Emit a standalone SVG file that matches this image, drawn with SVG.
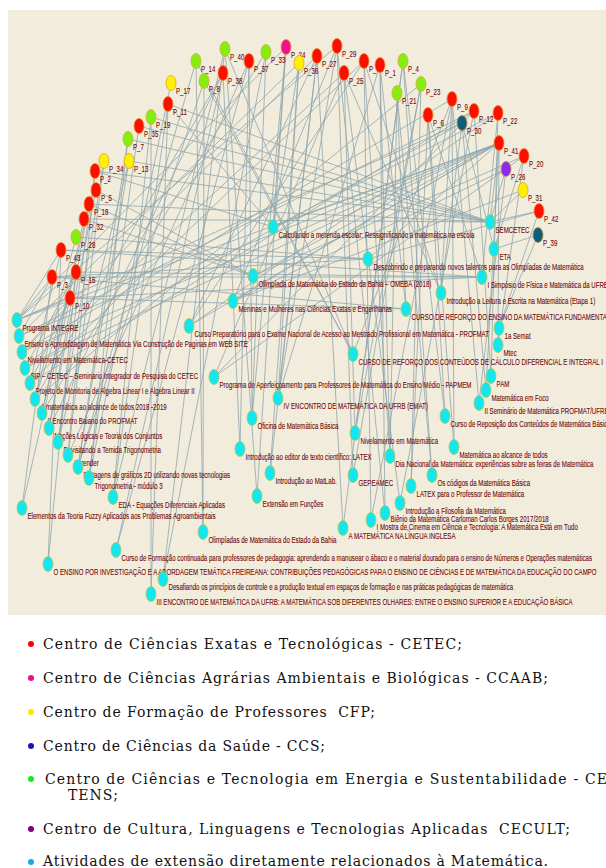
<svg xmlns="http://www.w3.org/2000/svg" width="606" height="868" viewBox="0 0 606 868">
<style>
.e line{stroke:#8fa6ad;stroke-width:0.8}
ellipse{stroke-width:0.8}
.r{fill:#fa0f00;stroke:#f08a2a}
.y{fill:#fff000;stroke:#d8a820}
.g{fill:#84ee10;stroke:#d0b030}
.m{fill:#f2108c;stroke:#e89040}
.v{fill:#8a2cf0;stroke:#d09040}
.t{fill:#08607e;stroke:#c09040}
.c{fill:#13e6ef;stroke:#b8c850}
.l{font-family:"Liberation Sans",Arial,sans-serif;font-size:9.5px;fill:#720909;stroke:#720909;stroke-width:0.12}
.lg{font-family:"DejaVu Serif","Liberation Serif",serif;font-size:14px;fill:#111}
</style>
<rect x="8" y="10" width="598" height="605" fill="#f2ecdc"/>
<g id="edges" class="e">
<line x1="539" y1="211" x2="490" y2="222"/>
<line x1="523" y1="190" x2="490" y2="222"/>
<line x1="506" y1="169" x2="490" y2="222"/>
<line x1="499" y1="143" x2="490" y2="222"/>
<line x1="168" y1="104" x2="490" y2="222"/>
<line x1="139" y1="126" x2="490" y2="222"/>
<line x1="151" y1="117" x2="490" y2="222"/>
<line x1="128" y1="139" x2="490" y2="222"/>
<line x1="95" y1="171" x2="490" y2="222"/>
<line x1="84" y1="219" x2="490" y2="222"/>
<line x1="89" y1="204" x2="490" y2="222"/>
<line x1="129" y1="161" x2="490" y2="222"/>
<line x1="538" y1="235" x2="494" y2="249"/>
<line x1="462" y1="123" x2="494" y2="249"/>
<line x1="524" y1="156" x2="494" y2="249"/>
<line x1="76" y1="272" x2="482" y2="277"/>
<line x1="52" y1="277" x2="482" y2="277"/>
<line x1="61" y1="250" x2="482" y2="277"/>
<line x1="70" y1="298" x2="482" y2="277"/>
<line x1="498" y1="113" x2="482" y2="277"/>
<line x1="428" y1="115" x2="482" y2="277"/>
<line x1="452" y1="99" x2="441" y2="293"/>
<line x1="462" y1="123" x2="441" y2="293"/>
<line x1="344" y1="73" x2="441" y2="293"/>
<line x1="364" y1="61" x2="441" y2="293"/>
<line x1="70" y1="298" x2="406" y2="309"/>
<line x1="52" y1="277" x2="406" y2="309"/>
<line x1="380" y1="65" x2="406" y2="309"/>
<line x1="397" y1="93" x2="406" y2="309"/>
<line x1="538" y1="235" x2="499" y2="328"/>
<line x1="539" y1="211" x2="499" y2="328"/>
<line x1="499" y1="143" x2="498" y2="345"/>
<line x1="524" y1="156" x2="498" y2="345"/>
<line x1="498" y1="113" x2="491" y2="376"/>
<line x1="474" y1="111" x2="491" y2="376"/>
<line x1="499" y1="143" x2="486" y2="390"/>
<line x1="462" y1="123" x2="486" y2="390"/>
<line x1="506" y1="169" x2="479" y2="403"/>
<line x1="452" y1="99" x2="479" y2="403"/>
<line x1="428" y1="115" x2="445" y2="416"/>
<line x1="403" y1="61" x2="445" y2="416"/>
<line x1="52" y1="277" x2="17" y2="320"/>
<line x1="70" y1="298" x2="17" y2="320"/>
<line x1="61" y1="250" x2="17" y2="320"/>
<line x1="499" y1="143" x2="17" y2="320"/>
<line x1="462" y1="123" x2="17" y2="320"/>
<line x1="286" y1="47" x2="17" y2="320"/>
<line x1="337" y1="46" x2="17" y2="320"/>
<line x1="52" y1="277" x2="19" y2="336"/>
<line x1="499" y1="143" x2="19" y2="336"/>
<line x1="474" y1="111" x2="19" y2="336"/>
<line x1="299" y1="63" x2="19" y2="336"/>
<line x1="70" y1="298" x2="22" y2="352"/>
<line x1="499" y1="143" x2="22" y2="352"/>
<line x1="452" y1="99" x2="22" y2="352"/>
<line x1="317" y1="56" x2="22" y2="352"/>
<line x1="76" y1="272" x2="25" y2="368"/>
<line x1="499" y1="143" x2="25" y2="368"/>
<line x1="462" y1="123" x2="25" y2="368"/>
<line x1="344" y1="73" x2="25" y2="368"/>
<line x1="61" y1="250" x2="30" y2="383"/>
<line x1="70" y1="298" x2="30" y2="383"/>
<line x1="474" y1="111" x2="30" y2="383"/>
<line x1="364" y1="61" x2="30" y2="383"/>
<line x1="76" y1="272" x2="35" y2="399"/>
<line x1="76" y1="237" x2="35" y2="399"/>
<line x1="223" y1="73" x2="35" y2="399"/>
<line x1="421" y1="84" x2="35" y2="399"/>
<line x1="84" y1="219" x2="42" y2="413"/>
<line x1="89" y1="204" x2="42" y2="413"/>
<line x1="266" y1="52" x2="42" y2="413"/>
<line x1="89" y1="204" x2="49" y2="428"/>
<line x1="96" y1="190" x2="49" y2="428"/>
<line x1="223" y1="73" x2="49" y2="428"/>
<line x1="95" y1="171" x2="58" y2="442"/>
<line x1="104" y1="161" x2="58" y2="442"/>
<line x1="129" y1="161" x2="58" y2="442"/>
<line x1="104" y1="161" x2="68" y2="455"/>
<line x1="95" y1="171" x2="68" y2="455"/>
<line x1="249" y1="61" x2="68" y2="455"/>
<line x1="129" y1="161" x2="78" y2="467"/>
<line x1="128" y1="139" x2="78" y2="467"/>
<line x1="196" y1="61" x2="78" y2="467"/>
<line x1="204" y1="81" x2="78" y2="467"/>
<line x1="128" y1="139" x2="89" y2="478"/>
<line x1="139" y1="126" x2="89" y2="478"/>
<line x1="171" y1="83" x2="89" y2="478"/>
<line x1="151" y1="117" x2="113" y2="497"/>
<line x1="168" y1="104" x2="113" y2="497"/>
<line x1="225" y1="49" x2="113" y2="497"/>
<line x1="70" y1="298" x2="22" y2="508"/>
<line x1="52" y1="277" x2="22" y2="508"/>
<line x1="204" y1="81" x2="203" y2="532"/>
<line x1="196" y1="61" x2="203" y2="532"/>
<line x1="223" y1="73" x2="116" y2="550"/>
<line x1="249" y1="61" x2="116" y2="550"/>
<line x1="76" y1="272" x2="48" y2="564"/>
<line x1="61" y1="250" x2="48" y2="564"/>
<line x1="225" y1="49" x2="163" y2="579"/>
<line x1="266" y1="52" x2="163" y2="579"/>
<line x1="151" y1="117" x2="151" y2="594"/>
<line x1="168" y1="104" x2="151" y2="594"/>
<line x1="299" y1="63" x2="273" y2="227"/>
<line x1="286" y1="47" x2="273" y2="227"/>
<line x1="498" y1="113" x2="273" y2="227"/>
<line x1="95" y1="171" x2="273" y2="227"/>
<line x1="168" y1="104" x2="273" y2="227"/>
<line x1="499" y1="143" x2="273" y2="227"/>
<line x1="61" y1="250" x2="368" y2="259"/>
<line x1="76" y1="237" x2="368" y2="259"/>
<line x1="52" y1="277" x2="368" y2="259"/>
<line x1="539" y1="211" x2="368" y2="259"/>
<line x1="499" y1="143" x2="368" y2="259"/>
<line x1="499" y1="143" x2="253" y2="276"/>
<line x1="524" y1="156" x2="253" y2="276"/>
<line x1="89" y1="204" x2="253" y2="276"/>
<line x1="84" y1="219" x2="253" y2="276"/>
<line x1="96" y1="190" x2="253" y2="276"/>
<line x1="499" y1="143" x2="233" y2="301"/>
<line x1="506" y1="169" x2="233" y2="301"/>
<line x1="523" y1="190" x2="233" y2="301"/>
<line x1="337" y1="46" x2="233" y2="301"/>
<line x1="499" y1="143" x2="189" y2="326"/>
<line x1="498" y1="113" x2="189" y2="326"/>
<line x1="317" y1="56" x2="189" y2="326"/>
<line x1="364" y1="61" x2="189" y2="326"/>
<line x1="196" y1="61" x2="353" y2="354"/>
<line x1="225" y1="49" x2="353" y2="354"/>
<line x1="204" y1="81" x2="353" y2="354"/>
<line x1="452" y1="99" x2="353" y2="354"/>
<line x1="474" y1="111" x2="214" y2="377"/>
<line x1="524" y1="156" x2="214" y2="377"/>
<line x1="344" y1="73" x2="214" y2="377"/>
<line x1="337" y1="46" x2="278" y2="398"/>
<line x1="317" y1="56" x2="278" y2="398"/>
<line x1="380" y1="65" x2="278" y2="398"/>
<line x1="299" y1="63" x2="278" y2="398"/>
<line x1="286" y1="47" x2="252" y2="418"/>
<line x1="266" y1="52" x2="252" y2="418"/>
<line x1="249" y1="61" x2="252" y2="418"/>
<line x1="403" y1="61" x2="355" y2="433"/>
<line x1="421" y1="84" x2="355" y2="433"/>
<line x1="344" y1="73" x2="355" y2="433"/>
<line x1="249" y1="61" x2="240" y2="449"/>
<line x1="223" y1="73" x2="240" y2="449"/>
<line x1="364" y1="61" x2="390" y2="456"/>
<line x1="380" y1="65" x2="390" y2="456"/>
<line x1="397" y1="93" x2="390" y2="456"/>
<line x1="428" y1="115" x2="454" y2="447"/>
<line x1="452" y1="99" x2="454" y2="447"/>
<line x1="299" y1="63" x2="270" y2="473"/>
<line x1="317" y1="56" x2="270" y2="473"/>
<line x1="337" y1="46" x2="353" y2="475"/>
<line x1="421" y1="84" x2="353" y2="475"/>
<line x1="397" y1="93" x2="432" y2="475"/>
<line x1="403" y1="61" x2="432" y2="475"/>
<line x1="421" y1="84" x2="411" y2="486"/>
<line x1="428" y1="115" x2="411" y2="486"/>
<line x1="286" y1="47" x2="257" y2="496"/>
<line x1="225" y1="49" x2="257" y2="496"/>
<line x1="344" y1="73" x2="400" y2="503"/>
<line x1="474" y1="111" x2="400" y2="503"/>
<line x1="337" y1="46" x2="385" y2="513"/>
<line x1="380" y1="65" x2="385" y2="513"/>
<line x1="364" y1="61" x2="371" y2="520"/>
<line x1="452" y1="99" x2="371" y2="520"/>
<line x1="317" y1="56" x2="343" y2="528"/>
<line x1="403" y1="61" x2="343" y2="528"/>
</g>
<g id="P_40"><ellipse class="g" cx="225" cy="49" rx="5" ry="7.5"/><text class="l" transform="translate(230,60) scale(0.645,1)">P_40</text></g>
<g id="P_14"><ellipse class="g" cx="196" cy="61" rx="5" ry="7.5"/><text class="l" transform="translate(201,72) scale(0.645,1)">P_14</text></g>
<g id="P_8"><ellipse class="g" cx="204" cy="81" rx="5" ry="7.5"/><text class="l" transform="translate(209,92) scale(0.645,1)">P_8</text></g>
<g id="P_38"><ellipse class="r" cx="223" cy="73" rx="5" ry="7.5"/><text class="l" transform="translate(228,84) scale(0.645,1)">P_38</text></g>
<g id="P_37"><ellipse class="r" cx="249" cy="61" rx="5" ry="7.5"/><text class="l" transform="translate(254,72) scale(0.645,1)">P_37</text></g>
<g id="P_33"><ellipse class="g" cx="266" cy="52" rx="5" ry="7.5"/><text class="l" transform="translate(271,63) scale(0.645,1)">P_33</text></g>
<g id="P_24"><ellipse class="m" cx="286" cy="47" rx="5" ry="7.5"/><text class="l" transform="translate(291,58) scale(0.645,1)">P_24</text></g>
<g id="P_36"><ellipse class="y" cx="299" cy="63" rx="5" ry="7.5"/><text class="l" transform="translate(304,74) scale(0.645,1)">P_36</text></g>
<g id="P_27"><ellipse class="r" cx="317" cy="56" rx="5" ry="7.5"/><text class="l" transform="translate(322,67) scale(0.645,1)">P_27</text></g>
<g id="P_29"><ellipse class="r" cx="337" cy="46" rx="5" ry="7.5"/><text class="l" transform="translate(342,57) scale(0.645,1)">P_29</text></g>
<g id="P_25"><ellipse class="r" cx="344" cy="73" rx="5" ry="7.5"/><text class="l" transform="translate(349,84) scale(0.645,1)">P_25</text></g>
<g id="P_16"><ellipse class="r" cx="364" cy="61" rx="5" ry="7.5"/><text class="l" transform="translate(369,72) scale(0.645,1)">P_16</text></g>
<g id="P_1"><ellipse class="r" cx="380" cy="65" rx="5" ry="7.5"/><text class="l" transform="translate(385,76) scale(0.645,1)">P_1</text></g>
<g id="P_4"><ellipse class="g" cx="403" cy="61" rx="5" ry="7.5"/><text class="l" transform="translate(408,72) scale(0.645,1)">P_4</text></g>
<g id="P_21"><ellipse class="g" cx="397" cy="93" rx="5" ry="7.5"/><text class="l" transform="translate(402,104) scale(0.645,1)">P_21</text></g>
<g id="P_23"><ellipse class="g" cx="421" cy="84" rx="5" ry="7.5"/><text class="l" transform="translate(426,95) scale(0.645,1)">P_23</text></g>
<g id="P_6"><ellipse class="r" cx="428" cy="115" rx="5" ry="7.5"/><text class="l" transform="translate(433,126) scale(0.645,1)">P_6</text></g>
<g id="P_9"><ellipse class="r" cx="452" cy="99" rx="5" ry="7.5"/><text class="l" transform="translate(457,110) scale(0.645,1)">P_9</text></g>
<g id="P_30"><ellipse class="t" cx="462" cy="123" rx="5" ry="7.5"/><text class="l" transform="translate(467,134) scale(0.645,1)">P_30</text></g>
<g id="P_12"><ellipse class="r" cx="474" cy="111" rx="5" ry="7.5"/><text class="l" transform="translate(479,122) scale(0.645,1)">P_12</text></g>
<g id="P_22"><ellipse class="r" cx="498" cy="113" rx="5" ry="7.5"/><text class="l" transform="translate(503,124) scale(0.645,1)">P_22</text></g>
<g id="P_41"><ellipse class="r" cx="499" cy="143" rx="5" ry="7.5"/><text class="l" transform="translate(504,154) scale(0.645,1)">P_41</text></g>
<g id="P_20"><ellipse class="r" cx="524" cy="156" rx="5" ry="7.5"/><text class="l" transform="translate(529,167) scale(0.645,1)">P_20</text></g>
<g id="P_26"><ellipse class="v" cx="506" cy="169" rx="5" ry="7.5"/><text class="l" transform="translate(511,180) scale(0.645,1)">P_26</text></g>
<g id="P_31"><ellipse class="y" cx="523" cy="190" rx="5" ry="7.5"/><text class="l" transform="translate(528,201) scale(0.645,1)">P_31</text></g>
<g id="P_42"><ellipse class="r" cx="539" cy="211" rx="5" ry="7.5"/><text class="l" transform="translate(544,222) scale(0.645,1)">P_42</text></g>
<g id="P_39"><ellipse class="t" cx="538" cy="235" rx="5" ry="7.5"/><text class="l" transform="translate(543,246) scale(0.645,1)">P_39</text></g>
<g id="P_17"><ellipse class="y" cx="171" cy="83" rx="5" ry="7.5"/><text class="l" transform="translate(176,94) scale(0.645,1)">P_17</text></g>
<g id="P_11"><ellipse class="r" cx="168" cy="104" rx="5" ry="7.5"/><text class="l" transform="translate(173,115) scale(0.645,1)">P_11</text></g>
<g id="P_19"><ellipse class="g" cx="151" cy="117" rx="5" ry="7.5"/><text class="l" transform="translate(156,128) scale(0.645,1)">P_19</text></g>
<g id="P_35"><ellipse class="r" cx="139" cy="126" rx="5" ry="7.5"/><text class="l" transform="translate(144,137) scale(0.645,1)">P_35</text></g>
<g id="P_7"><ellipse class="g" cx="128" cy="139" rx="5" ry="7.5"/><text class="l" transform="translate(133,150) scale(0.645,1)">P_7</text></g>
<g id="P_13"><ellipse class="y" cx="129" cy="161" rx="5" ry="7.5"/><text class="l" transform="translate(134,172) scale(0.645,1)">P_13</text></g>
<g id="P_34"><ellipse class="y" cx="104" cy="161" rx="5" ry="7.5"/><text class="l" transform="translate(109,172) scale(0.645,1)">P_34</text></g>
<g id="P_2"><ellipse class="r" cx="95" cy="171" rx="5" ry="7.5"/><text class="l" transform="translate(100,182) scale(0.645,1)">P_2</text></g>
<g id="P_5"><ellipse class="r" cx="96" cy="190" rx="5" ry="7.5"/><text class="l" transform="translate(101,201) scale(0.645,1)">P_5</text></g>
<g id="P_18"><ellipse class="r" cx="89" cy="204" rx="5" ry="7.5"/><text class="l" transform="translate(94,215) scale(0.645,1)">P_18</text></g>
<g id="P_32"><ellipse class="r" cx="84" cy="219" rx="5" ry="7.5"/><text class="l" transform="translate(89,230) scale(0.645,1)">P_32</text></g>
<g id="P_28"><ellipse class="g" cx="76" cy="237" rx="5" ry="7.5"/><text class="l" transform="translate(81,248) scale(0.645,1)">P_28</text></g>
<g id="P_43"><ellipse class="r" cx="61" cy="250" rx="5" ry="7.5"/><text class="l" transform="translate(66,261) scale(0.645,1)">P_43</text></g>
<g id="P_3"><ellipse class="r" cx="52" cy="277" rx="5" ry="7.5"/><text class="l" transform="translate(57,288) scale(0.645,1)">P_3</text></g>
<g id="P_15"><ellipse class="r" cx="76" cy="272" rx="5" ry="7.5"/><text class="l" transform="translate(81,283) scale(0.645,1)">P_15</text></g>
<g id="P_10"><ellipse class="r" cx="70" cy="298" rx="5" ry="7.5"/><text class="l" transform="translate(75,309) scale(0.645,1)">P_10</text></g>
<g id="a1"><ellipse class="c" cx="17" cy="320" rx="5" ry="7.5"/><text class="l" transform="translate(22.5,331) scale(0.645,1)">Programa INTEGRE</text></g>
<g id="a2"><ellipse class="c" cx="19" cy="336" rx="5" ry="7.5"/><text class="l" transform="translate(24.5,347) scale(0.645,1)">Ensino e Aprendizagem de Matemática Via Construção de Paginas em WEB SITE</text></g>
<g id="a3"><ellipse class="c" cx="22" cy="352" rx="5" ry="7.5"/><text class="l" transform="translate(27.5,363) scale(0.645,1)">Nivelamento em Matemática-CETEC</text></g>
<g id="a4"><ellipse class="c" cx="25" cy="368" rx="5" ry="7.5"/><text class="l" transform="translate(30.5,379) scale(0.645,1)">SIP – CETEC – Seminario Integrador de Pesquisa do CETEC</text></g>
<g id="a5"><ellipse class="c" cx="30" cy="383" rx="5" ry="7.5"/><text class="l" transform="translate(35.5,394) scale(0.645,1)">Projeto de Monitoria de Algebra Linear I e Algebra Linear II</text></g>
<g id="a6"><ellipse class="c" cx="35" cy="399" rx="5" ry="7.5"/><text class="l" transform="translate(40.5,410) scale(0.645,1)">A matemática ao alcance de todos 2018 -2019</text></g>
<g id="a7"><ellipse class="c" cx="42" cy="413" rx="5" ry="7.5"/><text class="l" transform="translate(47.5,424) scale(0.645,1)">II Encontro Baiano do PROFMAT</text></g>
<g id="a8"><ellipse class="c" cx="49" cy="428" rx="5" ry="7.5"/><text class="l" transform="translate(54.5,439) scale(0.645,1)">Noções Lógicas e Teoria dos Conjuntos</text></g>
<g id="a9"><ellipse class="c" cx="58" cy="442" rx="5" ry="7.5"/><text class="l" transform="translate(63.5,453) scale(0.645,1)">Revisitando a Temida Trigonometria</text></g>
<g id="a10"><ellipse class="c" cx="68" cy="455" rx="5" ry="7.5"/><text class="l" transform="translate(73.5,466) scale(0.645,1)">Aprender</text></g>
<g id="a11"><ellipse class="c" cx="78" cy="467" rx="5" ry="7.5"/><text class="l" transform="translate(83.5,478) scale(0.645,1)">Plotagens de gráficos 2D utilizando novas tecnologias</text></g>
<g id="a12"><ellipse class="c" cx="89" cy="478" rx="5" ry="7.5"/><text class="l" transform="translate(94.5,489) scale(0.645,1)">Trigonometria - módulo 3</text></g>
<g id="a13"><ellipse class="c" cx="113" cy="497" rx="5" ry="7.5"/><text class="l" transform="translate(118.5,508) scale(0.645,1)">EDA - Equações Diferenciais Aplicadas</text></g>
<g id="a14"><ellipse class="c" cx="22" cy="508" rx="5" ry="7.5"/><text class="l" transform="translate(27.5,519) scale(0.645,1)">Elementos da Teoria Fuzzy Aplicados aos Problemas Agroambientais</text></g>
<g id="a15"><ellipse class="c" cx="203" cy="532" rx="5" ry="7.5"/><text class="l" transform="translate(208.5,543) scale(0.645,1)">Olimpíadas de Matemática do Estado da Bahia</text></g>
<g id="a16"><ellipse class="c" cx="116" cy="550" rx="5" ry="7.5"/><text class="l" transform="translate(121.5,561) scale(0.645,1)">Curso de Formação continuada para professores de pedagogia: aprendendo a manusear o ábaco e o material dourado para o ensino de Números e Operações matemáticas</text></g>
<g id="a17"><ellipse class="c" cx="48" cy="564" rx="5" ry="7.5"/><text class="l" transform="translate(53.5,575) scale(0.645,1)">O ENSINO POR INVESTIGAÇÃO E A ABORDAGEM TEMÁTICA FREIREANA: CONTRIBUIÇÕES PEDAGÓGICAS PARA O ENSINO DE CIÊNCIAS E DE MATEMÁTICA DA EDUCAÇÃO DO CAMPO</text></g>
<g id="a18"><ellipse class="c" cx="163" cy="579" rx="5" ry="7.5"/><text class="l" transform="translate(168.5,590) scale(0.645,1)">Desafiando os princípios de controle e a produção textual em espaços de formação e nas práticas pedagógicas de matemática</text></g>
<g id="a19"><ellipse class="c" cx="151" cy="594" rx="5" ry="7.5"/><text class="l" transform="translate(156.5,605) scale(0.645,1)">III ENCONTRO DE MATEMÁTICA DA UFRB: A MATEMÁTICA SOB DIFERENTES OLHARES: ENTRE O ENSINO SUPERIOR E A EDUCAÇÃO BÁSICA</text></g>
<g id="a20"><ellipse class="c" cx="273" cy="227" rx="5" ry="7.5"/><text class="l" transform="translate(278.5,238) scale(0.645,1)">Calculando a merenda escolar: Ressignificando a matemática na escola</text></g>
<g id="a21"><ellipse class="c" cx="368" cy="259" rx="5" ry="7.5"/><text class="l" transform="translate(373.5,270) scale(0.645,1)">Descobrindo e preparando novos talentos para as Olimpíadas de Matemática</text></g>
<g id="a22"><ellipse class="c" cx="253" cy="276" rx="5" ry="7.5"/><text class="l" transform="translate(258.5,287) scale(0.645,1)">Olimpíada de Matemática do Estado da Bahia – OMEBA (2018)</text></g>
<g id="a23"><ellipse class="c" cx="233" cy="301" rx="5" ry="7.5"/><text class="l" transform="translate(238.5,312) scale(0.645,1)">Meninas e Mulheres nas Ciências Exatas e Engenharias</text></g>
<g id="a24"><ellipse class="c" cx="189" cy="326" rx="5" ry="7.5"/><text class="l" transform="translate(194.5,337) scale(0.645,1)">Curso Preparatório para o Exame Nacional de Acesso ao Mestrado Profissional em Matemática - PROFMAT</text></g>
<g id="a25"><ellipse class="c" cx="353" cy="354" rx="5" ry="7.5"/><text class="l" transform="translate(358.5,365) scale(0.645,1)">CURSO DE REFORÇO DOS CONTEÚDOS DE CÁLCULO DIFERENCIAL E INTEGRAL I</text></g>
<g id="a26"><ellipse class="c" cx="214" cy="377" rx="5" ry="7.5"/><text class="l" transform="translate(219.5,388) scale(0.645,1)">Programa de Aperfeiçoamento para Professores de Matemática do Ensino Médio - PAPMEM</text></g>
<g id="a27"><ellipse class="c" cx="278" cy="398" rx="5" ry="7.5"/><text class="l" transform="translate(283.5,409) scale(0.645,1)">IV ENCONTRO DE MATEMÁTICA DA UFRB (EMAT)</text></g>
<g id="a28"><ellipse class="c" cx="252" cy="418" rx="5" ry="7.5"/><text class="l" transform="translate(257.5,429) scale(0.645,1)">Oficina de Matemática Básica</text></g>
<g id="a29"><ellipse class="c" cx="355" cy="433" rx="5" ry="7.5"/><text class="l" transform="translate(360.5,444) scale(0.645,1)">Nivelamento em Matemática</text></g>
<g id="a30"><ellipse class="c" cx="240" cy="449" rx="5" ry="7.5"/><text class="l" transform="translate(245.5,460) scale(0.645,1)">Introdução ao editor de texto científico: LATEX</text></g>
<g id="a31"><ellipse class="c" cx="390" cy="456" rx="5" ry="7.5"/><text class="l" transform="translate(395.5,467) scale(0.645,1)">Dia Nacional da Matemática: experiências sobre as feiras de Matemática</text></g>
<g id="a32"><ellipse class="c" cx="454" cy="447" rx="5" ry="7.5"/><text class="l" transform="translate(459.5,458) scale(0.645,1)">Matemática ao alcance de todos</text></g>
<g id="a33"><ellipse class="c" cx="270" cy="473" rx="5" ry="7.5"/><text class="l" transform="translate(275.5,484) scale(0.645,1)">Introdução ao MatLab.</text></g>
<g id="a34"><ellipse class="c" cx="353" cy="475" rx="5" ry="7.5"/><text class="l" transform="translate(358.5,486) scale(0.645,1)">GEPEAMEC</text></g>
<g id="a35"><ellipse class="c" cx="432" cy="475" rx="5" ry="7.5"/><text class="l" transform="translate(437.5,486) scale(0.645,1)">Os códigos da Matemática Básica</text></g>
<g id="a36"><ellipse class="c" cx="411" cy="486" rx="5" ry="7.5"/><text class="l" transform="translate(416.5,497) scale(0.645,1)">LATEX para o Professor de Matemática</text></g>
<g id="a37"><ellipse class="c" cx="257" cy="496" rx="5" ry="7.5"/><text class="l" transform="translate(262.5,507) scale(0.645,1)">Extensão em Funções</text></g>
<g id="a38"><ellipse class="c" cx="400" cy="503" rx="5" ry="7.5"/><text class="l" transform="translate(405.5,514) scale(0.645,1)">Introdução a Filosofia da Matemática</text></g>
<g id="a39"><ellipse class="c" cx="385" cy="513" rx="5" ry="7.5"/><text class="l" transform="translate(390.5,522) scale(0.645,1)">Biênio da Matemática Carloman Carlos Borges 2017/2018</text></g>
<g id="a40"><ellipse class="c" cx="371" cy="520" rx="5" ry="7.5"/><text class="l" transform="translate(376.5,530) scale(0.645,1)">I Mostra de,Cinema em Ciência e Tecnologia: A Matemática Está em Tudo</text></g>
<g id="a41"><ellipse class="c" cx="343" cy="528" rx="5" ry="7.5"/><text class="l" transform="translate(348.5,539) scale(0.645,1)">A MATEMÁTICA NA LÍNGUA INGLESA</text></g>
<g id="a42"><ellipse class="c" cx="490" cy="222" rx="5" ry="7.5"/><text class="l" transform="translate(495.5,233) scale(0.645,1)">SEMCETEC</text></g>
<g id="a43"><ellipse class="c" cx="494" cy="249" rx="5" ry="7.5"/><text class="l" transform="translate(499.5,260) scale(0.645,1)">ETA</text></g>
<g id="a44"><ellipse class="c" cx="482" cy="277" rx="5" ry="7.5"/><text class="l" transform="translate(487.5,288) scale(0.645,1)">I Simpósio de Física e Matemática da UFRB</text></g>
<g id="a45"><ellipse class="c" cx="441" cy="293" rx="5" ry="7.5"/><text class="l" transform="translate(446.5,304) scale(0.645,1)">Introdução a Leitura e Escrita na Matemática (Etapa 1)</text></g>
<g id="a46"><ellipse class="c" cx="406" cy="309" rx="5" ry="7.5"/><text class="l" transform="translate(411.5,320) scale(0.645,1)">CURSO DE REFORÇO DO ENSINO DA MATEMÁTICA FUNDAMENTAL</text></g>
<g id="a47"><ellipse class="c" cx="499" cy="328" rx="5" ry="7.5"/><text class="l" transform="translate(504.5,339) scale(0.645,1)">1a Semat</text></g>
<g id="a48"><ellipse class="c" cx="498" cy="345" rx="5" ry="7.5"/><text class="l" transform="translate(503.5,356) scale(0.645,1)">Mtec</text></g>
<g id="a49"><ellipse class="c" cx="491" cy="376" rx="5" ry="7.5"/><text class="l" transform="translate(496.5,387) scale(0.645,1)">PAM</text></g>
<g id="a50"><ellipse class="c" cx="486" cy="390" rx="5" ry="7.5"/><text class="l" transform="translate(491.5,401) scale(0.645,1)">Matemática em Foco</text></g>
<g id="a51"><ellipse class="c" cx="479" cy="403" rx="5" ry="7.5"/><text class="l" transform="translate(484.5,414) scale(0.645,1)">II Seminário de Matemática PROFMAT/UFRB</text></g>
<g id="a52"><ellipse class="c" cx="445" cy="416" rx="5" ry="7.5"/><text class="l" transform="translate(450.5,427) scale(0.645,1)">Curso de Reposição dos Conteúdos de Matemática Básica</text></g>
<g id="legend">
<circle cx="31" cy="644" r="3" fill="#ff0000"/>
<text class="lg" x="43" y="649" textLength="419" lengthAdjust="spacing">Centro de Ciências Exatas e Tecnológicas - CETEC;</text>
<circle cx="31" cy="678" r="3" fill="#e8108a"/>
<text class="lg" x="43" y="683" textLength="505" lengthAdjust="spacing">Centro de Ciências Agrárias Ambientais e Biológicas - CCAAB;</text>
<circle cx="31" cy="712" r="3" fill="#ffe600"/>
<text class="lg" x="43" y="717" textLength="332" lengthAdjust="spacing">Centro de Formação de Professores&#160; CFP;</text>
<circle cx="31" cy="746" r="3" fill="#1a14b8"/>
<text class="lg" x="43" y="751" textLength="282" lengthAdjust="spacing">Centro de Ciências da Saúde - CCS;</text>
<circle cx="31" cy="779" r="3" fill="#14f014"/>
<text class="lg" x="45" y="784" textLength="562" lengthAdjust="spacing">Centro de Ciências e Tecnologia em Energia e Sustentabilidade - CE</text>
<text class="lg" x="68" y="800" textLength="50" lengthAdjust="spacing">TENS;</text>
<circle cx="31" cy="829" r="3" fill="#800080"/>
<text class="lg" x="43" y="834" textLength="527" lengthAdjust="spacing">Centro de Cultura, Linguagens e Tecnologias Aplicadas&#160; CECULT;</text>
<circle cx="31" cy="862" r="3" fill="#1aa8ee"/>
<text class="lg" x="43" y="866" textLength="505" lengthAdjust="spacing">Atividades de extensão diretamente relacionados à Matemática.</text>
</g>
</svg>
